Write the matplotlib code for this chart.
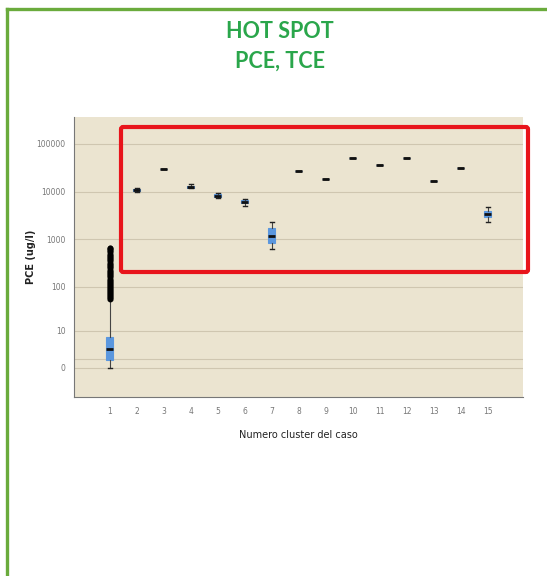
import matplotlib.pyplot as plt
import matplotlib.patches as patches
import numpy as np

# clusters and box statistics (PCE ug/l)
clusters = list(range(1, 16))
med = [3, 11000, 30000, 12800, 8200, 6200, 1150, 27500, 18500, 50000, 36000, 51500, 16500, 31500, 3400]
q1 = [0.9, 10200, 30000, 12200, 7700, 5800, 850, 27500, 18500, 50000, 36000, 51500, 16500, 31500, 2950]
q3 = [6.8, 11600, 30000, 13400, 8700, 6700, 1700, 27500, 18500, 50000, 36000, 51500, 16500, 31500, 3950]
whislo = [0, 9600, 30000, 11800, 7200, 5000, 620, 27500, 18500, 50000, 36000, 51500, 16500, 31500, 2350]
whishi = [52, 12200, 30000, 14200, 9300, 7100, 2350, 27500, 18500, 50000, 36000, 51500, 16500, 31500, 4700]
outliers_1 = [54, 57, 60, 63, 66, 69, 72, 76, 80, 84, 88, 92, 97, 102, 108, 114, 120,
              126, 133, 140, 148, 156, 165, 175, 185, 195, 205, 218, 230, 242, 255,
              270, 285, 302, 320, 340, 360, 380, 400, 425, 450, 475, 500, 530, 560,
              590, 620, 645, 665]

y_ticks = [0, 10, 100, 1000, 10000, 100000]
y_labels = ['0', '10', '100', '1000', '10000', '100000']

# SPSS-like log(x+2) axis
def fwd(y):
    return np.log10(np.maximum(np.asarray(y, dtype=float) + 2, 1e-9))

def inv(t):
    return 10 ** np.asarray(t, dtype=float) - 2

fig = plt.figure(figsize=(5.47, 5.76), dpi=100)
ax = fig.add_axes([74/547, 1-397/576, (523-74)/547, (397-117)/576])
ax.set_facecolor('#ebe4d0')
ax.set_yscale('function', functions=(fwd, inv))

stats = []
for i in range(len(clusters)):
    s = {'med': med[i], 'q1': q1[i], 'q3': q3[i],
         'whislo': whislo[i], 'whishi': whishi[i], 'fliers': []}
    if i == 0:
        s['fliers'] = outliers_1
    stats.append(s)

ax.bxp(stats, positions=clusters, widths=0.26, patch_artist=True,
       boxprops=dict(facecolor='#5b97de', edgecolor='#5b97de', linewidth=0.8),
       medianprops=dict(color='#111111', linewidth=2),
       whiskerprops=dict(color='#444444', linewidth=0.8),
       capprops=dict(color='#222222', linewidth=1.0),
       capwidths=0.12,
       flierprops=dict(marker='o', markersize=3.2, markerfacecolor='black',
                       markeredgecolor='black'))

ax.set_xlim(-0.33, 16.3)
ax.set_ylim(-1.51, 368000)
ax.set_yticks(y_ticks)
ax.set_yticklabels(y_labels)
ax.set_yticks([1], minor=True)
ax.set_xticks(clusters)
ax.set_xticklabels([str(c) for c in clusters])
ax.grid(axis='y', which='both', color='#cfc6b0', linewidth=0.8)
ax.set_axisbelow(True)
ax.tick_params(axis='both', which='both', length=0, labelsize=5.5, labelcolor='#777777')
ax.tick_params(axis='y', pad=6)
ax.tick_params(axis='x', pad=7)
for side in ['top', 'right']:
    ax.spines[side].set_visible(False)
for side in ['left', 'bottom']:
    ax.spines[side].set_color('#777777')
    ax.spines[side].set_linewidth(0.8)

ax.set_xlabel('Numero cluster del caso', fontsize=7, color='#222222', labelpad=10)
ax.set_ylabel('PCE (ug/l)', fontsize=7, color='#222222', fontweight='bold')
ax.yaxis.set_label_coords(-(74 - 36) / 449, 0.5)

# title
fig.text(280/547, 1-31/576, 'HOT SPOT', ha='center', va='center', fontsize=15.5,
         fontweight='bold', color='#2aa64b', family='Lato')
fig.text(280/547, 1-61/576, 'PCE, TCE', ha='center', va='center', fontsize=15.5,
         fontweight='bold', color='#2aa64b', family='Lato')

# green frame (left and top)
fig.add_artist(plt.Line2D([7/547, 7/547], [0, 1-8.5/576], color='#6aab3c', linewidth=2.4))
fig.add_artist(plt.Line2D([7/547, 1], [1-8.5/576, 1-8.5/576], color='#6aab3c', linewidth=2.4))

# red highlight box
fig.add_artist(patches.FancyBboxPatch((121/547, 1-272/576), (528-121)/547, (272-127)/576,
                                      boxstyle='round,pad=0,rounding_size=0.004',
                                      fill=False, edgecolor='#e8141b', linewidth=3,
                                      transform=fig.transFigure))

plt.savefig('out.png', dpi=100)
